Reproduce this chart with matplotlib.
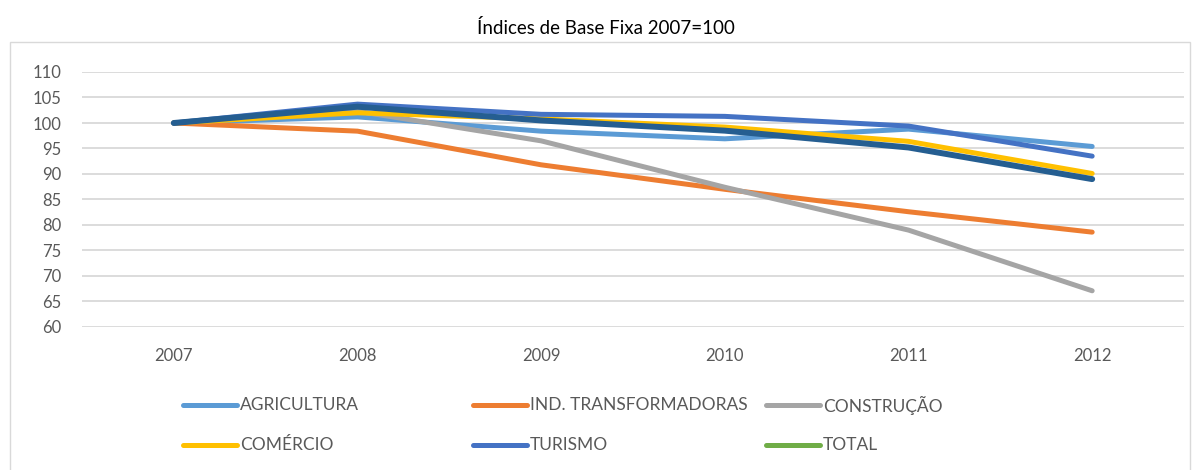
import numpy as np
import matplotlib
matplotlib.use("Agg")
import matplotlib.pyplot as plt
from matplotlib.lines import Line2D
from matplotlib.patches import Rectangle

plt.rcParams['font.family'] = ['Lato', 'DejaVu Sans']

# Data (index, 2007 = 100)
years = ["2007", "2008", "2009", "2010", "2011", "2012"]
agricultura = [100.0, 101.2, 98.4, 96.9, 98.8, 95.4]
ind_transformadoras = [100.0, 98.4, 91.8, 87.0, 82.6, 78.6]
construcao = [100.0, 102.3, 96.5, 87.4, 79.0, 67.1]
comercio = [100.0, 102.0, 100.8, 99.2, 96.4, 90.1]
turismo = [100.0, 103.7, 101.7, 101.3, 99.4, 93.5]
total = [100.0, 103.2, 100.5, 98.5, 95.2, 89.0]

series_names = ["AGRICULTURA", "IND. TRANSFORMADORAS", "CONSTRUÇÃO",
                "COMÉRCIO", "TURISMO", "TOTAL"]
series_values = [agricultura, ind_transformadoras, construcao,
                 comercio, turismo, total]
line_colors = ["#5B9BD5", "#ED7D31", "#A5A5A5", "#FFC000", "#4472C4", "#255E91"]
legend_colors = ["#5B9BD5", "#ED7D31", "#A5A5A5", "#FFC000", "#4472C4", "#70AD47"]
line_widths = [3.6, 3.6, 3.6, 3.6, 3.6, 4.3]

W, H = 1201, 470
fig = plt.figure(figsize=(W / 100, H / 100), dpi=100)

# chart border (title sits above it)
fig.add_artist(Rectangle((10 / W, -0.01), 1180 / W, 1 - 42 / H + 0.01,
                         transform=fig.transFigure, fill=False,
                         edgecolor="#D9D9D9", linewidth=1.0))

ax = fig.add_axes([82 / W, 1 - 327 / H, (1184 - 82) / W, (327 - 72) / H])
x = np.arange(len(years))
for vals, c, lw in zip(series_values, line_colors, line_widths):
    ax.plot(x, vals, color=c, linewidth=lw, solid_capstyle="round",
            solid_joinstyle="round", zorder=3)

ax.set_xlim(-0.5, len(years) - 0.5)
ax.set_ylim(60, 110)
ax.set_yticks(np.arange(60, 111, 5))
ax.set_xticks(x)
ax.set_xticklabels(years)
ax.grid(axis="y", color="#D9D9D9", linewidth=1.3)
ax.set_axisbelow(True)
for s in ax.spines.values():
    s.set_visible(False)
ax.tick_params(axis="both", length=0, labelsize=12, labelcolor="#595959")
ax.tick_params(axis="y", pad=15)
ax.tick_params(axis="x", pad=15)

fig.text(606 / W, 1 - 28 / H, "Índices de Base Fixa 2007=100",
         ha="center", va="center", fontsize=13.5, color="#000000")

# legend laid out like the Excel one: 3 columns, 2 rows
col_x = [183, 473, 766]
row_y = [405, 445]
for i, (name, c) in enumerate(zip(series_names, legend_colors)):
    cx = col_x[i % 3]
    cy = 1 - row_y[i // 3] / H
    fig.add_artist(Line2D([cx / W, (cx + 54) / W], [cy, cy], color=c,
                          linewidth=3.6, solid_capstyle="round",
                          transform=fig.transFigure))
    fig.text((cx + 57) / W, cy, name, ha="left", va="center",
             fontsize=12.5, color="#595959")

fig.savefig("out.png", dpi=100)
